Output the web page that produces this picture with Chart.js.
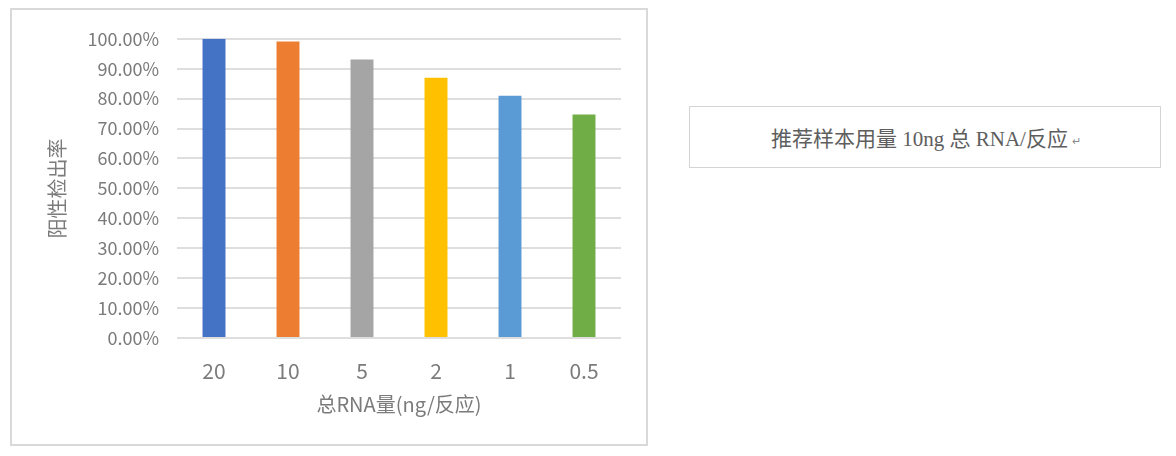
<!DOCTYPE html>
<html>
<head>
<meta charset="utf-8">
<script src="https://cdn.jsdelivr.net/npm/chart.js@4/dist/chart.umd.min.js"></script>
<style>
    body { margin: 0; background: #ffffff; width: 1176px; height: 456px; position: relative; overflow: hidden; }
    #caixaGrafico {
        position: absolute; left: 10px; top: 8px; width: 638px; height: 438px;
        border: 2px solid #d9d9d9; box-sizing: border-box;
    }
    #caixaTexto {
        position: absolute; left: 689px; top: 106px; width: 472px; height: 62px;
        border: 1px solid #d4d4d4; box-sizing: border-box;
        font-family: "Liberation Serif", "Noto Sans CJK SC", serif;
        font-size: 21px; color: #5e5e5e;
        display: flex; align-items: center; justify-content: center;
        padding-left: 2px;
    }
    #caixaTexto .marca { font-size: 11px; color: #8a8a8a; margin-left: 4px; margin-top: 8px; }
</style>
</head>
<body>
<div id="caixaGrafico"><canvas id="myChart1"></canvas></div>
<div id="caixaTexto">推荐样本用量 10ng 总 RNA/反应<span class="marca">↵</span></div>

<script>
// quantidade de RNA por reação (ng)
const categorias = ['20', '10', '5', '2', '1', '0.5'];
// taxa de detecção positiva
const taxaPositiva = [1.00, 0.991, 0.931, 0.870, 0.810, 0.747];
const coresBarras = ['#4472c4', '#ed7d31', '#a5a5a5', '#ffc000', '#5b9bd5', '#70ad47'];
const ticksY = [0, 0.1, 0.2, 0.3, 0.4, 0.5, 0.6, 0.7, 0.8, 0.9, 1.0];

const corTexto = '#7b7b7b';
const fonte = '"Noto Sans CJK SC", "Noto Sans", sans-serif';

const ctx1 = document.getElementById('myChart1');

new Chart(ctx1, {
    type: 'bar',
    data: {
        labels: categorias,
        datasets: [{
            label: '阳性检出率',
            data: taxaPositiva,
            backgroundColor: coresBarras,
            barPercentage: 0.31,
            categoryPercentage: 1.0
        }]
    },
    options: {
        responsive: true,
        maintainAspectRatio: false,
        animation: false,
        layout: {
            padding: { top: 25, right: 25, bottom: 0, left: 0 }
        },
        plugins: {
            legend: { display: false },
            tooltip: { enabled: false }
        },
        scales: {
            x: {
                grid: { display: false },
                border: { display: false },
                ticks: {
                    color: corTexto,
                    padding: 12,
                    font: { family: fonte, size: 21 }
                },
                title: {
                    display: true,
                    text: '总RNA量(ng/反应)',
                    color: corTexto,
                    font: { family: fonte, size: 20 },
                    padding: { top: 0, bottom: 28 }
                },
                afterFit: function (escala) {
                    escala.height = 106;
                }
            },
            y: {
                min: 0,
                max: 1,
                border: { display: false },
                grid: {
                    color: '#dedede',
                    lineWidth: 2,
                    drawTicks: false
                },
                afterBuildTicks: function (escala) {
                    escala.ticks = ticksY.map(v => ({ value: v }));
                },
                ticks: {
                    color: corTexto,
                    padding: 18,
                    font: { family: fonte, size: 18 },
                    callback: function (valor) {
                        return (valor * 100).toFixed(2) + '%';
                    }
                },
                title: {
                    display: true,
                    text: '阳性检出率',
                    color: corTexto,
                    font: { family: fonte, size: 20 },
                    padding: { top: 33, bottom: 0 }
                },
                afterFit: function (escala) {
                    escala.width = 165;
                }
            }
        }
    }
});
</script>
</body>
</html>
